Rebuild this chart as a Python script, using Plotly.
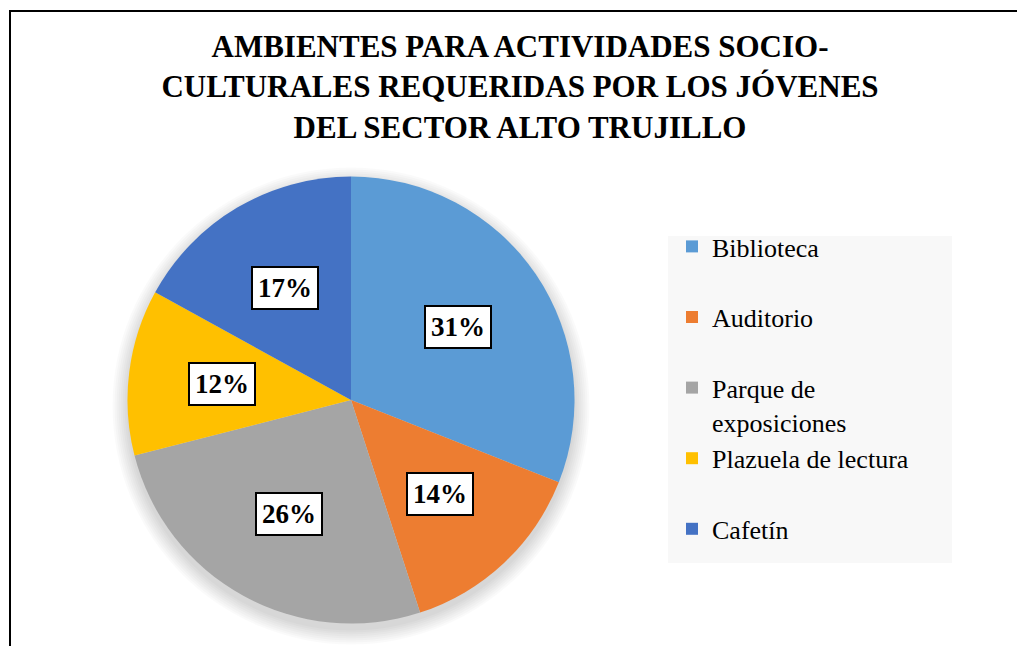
import math
import plotly.graph_objects as go

# ---- data ----
categories = ["Biblioteca", "Auditorio", "Parque de exposiciones", "Plazuela de lectura", "Cafetín"]
legend_labels = ["Biblioteca<br>\u00a0", "Auditorio<br>\u00a0", "Parque de<br>exposiciones",
                 "Plazuela de lectura<br>\u00a0", "Cafetín<br>\u00a0"]
values = [31, 14, 26, 12, 17]
colors = ["#5B9BD5", "#ED7D31", "#A5A5A5", "#FFC000", "#4472C4"]
title_text = ("AMBIENTES PARA ACTIVIDADES SOCIO-<br>CULTURALES REQUERIDAS POR LOS JÓVENES"
              "<br>DEL SECTOR ALTO TRUJILLO")

W, H = 1017, 646
FONT = "Liberation Serif, Times New Roman, serif"

# pie placement (pixels)
cx, cy, R = 351, 400, 223.5
dom_x = [(cx - R) / W, (cx + R) / W]
dom_y = [(H - cy - R) / H, (H - cy + R) / H]

fig = go.Figure()
fig.add_trace(go.Pie(
    labels=legend_labels,
    values=values,
    sort=False,
    direction="clockwise",
    rotation=0,
    marker=dict(colors=colors, line=dict(width=0)),
    textinfo="none",
    hovertemplate="%{customdata}: %{percent}<extra></extra>",
    customdata=categories,
    domain=dict(x=dom_x, y=dom_y),
    showlegend=True,
))

# percentage labels in boxes, positioned from slice mid-angles
total = sum(values)
cum = 0
annotations = []
for v in values:
    mid = (cum + v / 2) / total * 2 * math.pi
    cum += v
    rf = 0.58
    px = cx + rf * R * math.sin(mid)
    py = cy - rf * R * math.cos(mid)
    annotations.append(dict(
        x=px / W, y=(H - py) / H, xref="paper", yref="paper",
        text="<b>%d%%</b>" % round(v / total * 100),
        showarrow=False, font=dict(family=FONT, size=27, color="black"),
        bgcolor="white", bordercolor="black", borderwidth=2, borderpad=5,
        xanchor="center", yanchor="middle",
    ))

shapes = []
# soft shadow beneath the pie
for i in range(8):
    rr = R + 1 + i * 2
    shapes.append(dict(type="circle", xref="paper", yref="paper", layer="below",
                       x0=(cx - rr) / W, x1=(cx + rr) / W,
                       y0=(H - (cy + 6) - rr) / H, y1=(H - (cy + 6) + rr) / H,
                       fillcolor="rgba(0,0,0,0.02)", line=dict(width=0)))
# legend background
shapes.append(dict(type="rect", xref="paper", yref="paper", layer="below",
                   x0=668 / W, x1=952 / W, y0=(H - 563) / H, y1=(H - 236) / H,
                   fillcolor="#F8F8F8", line=dict(width=0)))
# chart border
shapes.append(dict(type="rect", xref="paper", yref="paper",
                   x0=10 / W, x1=1.2, y0=-0.2, y1=(H - 11) / H,
                   fillcolor="rgba(0,0,0,0)", line=dict(color="black", width=2)))

fig.update_layout(
    width=W, height=H,
    margin=dict(l=0, r=0, t=0, b=0),
    paper_bgcolor="white",
    title=dict(text="<b>" + title_text + "</b>", x=520 / W, xanchor="center",
               y=1 - 57 / H, yanchor="top", yref="container",
               font=dict(family=FONT, size=31, color="black")),
    legend=dict(x=672 / W, xanchor="left", y=(H - 223) / H, yanchor="top",
                bgcolor="rgba(0,0,0,0)", valign="top",
                font=dict(family=FONT, size=26, color="black")),
    annotations=annotations,
    shapes=shapes,
)

fig.write_html("out.html", config={"displayModeBar": False},
               post_script="document.body.style.margin='0';document.body.style.overflow='hidden';")
